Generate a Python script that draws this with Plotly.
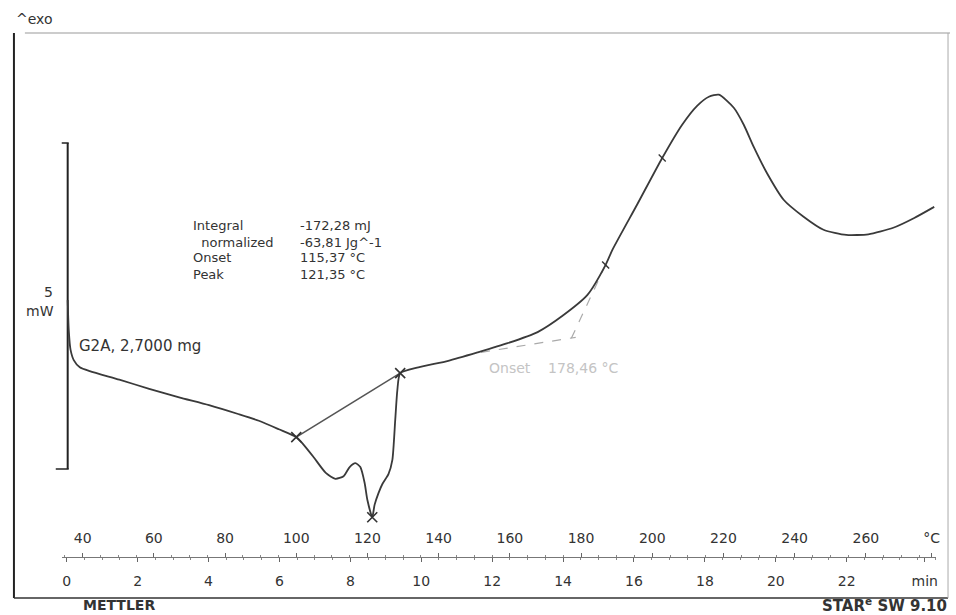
import plotly.graph_objects as go

# DSC heating scan of sample G2A (10 K/min), heat flow in mW, exo up
temp_c = [35.8, 36.1, 36.6, 37.5, 39.2, 42.0, 50.3, 58.7, 67.1, 75.5, 83.9, 89.5, 95.1,
          100.0, 102.1, 104.9, 108.3, 111.0, 113.3, 115.0, 116.6, 118.0, 119.2, 120.0,
          121.35, 122.0, 123.1, 124.2, 125.9, 127.0, 127.8, 128.4, 129.2,
          134.3, 142.7, 151.0, 159.4, 167.8, 174.8, 181.8, 186.9, 188.8, 195.8, 202.8,
          208.4, 212.6, 215.9, 218.7, 222.9, 225.7, 228.5, 232.2, 236.9, 242.5, 248.1,
          254.5, 260.7, 267.7, 273.6, 279.2]
heat_flow_mw = [2.59, 2.13, 1.83, 1.67, 1.56, 1.50, 1.37, 1.23, 1.10, 0.98, 0.84, 0.74, 0.61,
                0.49, 0.37, 0.18, -0.06, -0.15, -0.11, 0.03, 0.09, 0.03, -0.21, -0.48,
                -0.74, -0.55, -0.37, -0.23, -0.08, 0.14, 0.75, 1.21, 1.47,
                1.56, 1.66, 1.79, 1.93, 2.10, 2.35, 2.67, 3.13, 3.36, 4.06, 4.77,
                5.28, 5.57, 5.71, 5.74, 5.54, 5.28, 4.94, 4.54, 4.13, 3.87, 3.67,
                3.59, 3.60, 3.70, 3.85, 4.02]

# Peak integration: baseline limits and peak point
baseline_t = [100.0, 129.2]
baseline_mw = [0.49, 1.47]
peak_t = [121.35]
peak_mw = [-0.74]

# Onset construction of the second event (two tangents)
tangent1_t = [151.9, 178.5]
tangent1_mw = [1.79, 2.02]
tangent2_t = [186.9, 176.8]
tangent2_mw = [3.13, 1.95]
limit_marks_t = [186.9, 202.8]
limit_marks_mw = [3.13, 4.77]

# 5 mW scale bar
scale_t = [35.8, 35.8]
scale_mw = [0.0, 5.0]

# Scale ticks
temp_ticks = [40, 60, 80, 100, 120, 140, 160, 180, 200, 220, 240, 260, 278.5]
temp_ticktext = ["40", "60", "80", "100", "120", "140", "160", "180", "200",
                 "220", "240", "260", "°C"]
time_ticks = [0, 2, 4, 6, 8, 10, 12, 14, 16, 18, 20, 22, 24.2]
time_ticktext = ["0", "2", "4", "6", "8", "10", "12", "14", "16", "18", "20", "22", "min"]

result_labels = ["Integral", "  normalized", "Onset", "Peak"]
result_values = ["-172,28 mJ", "-63,81 Jg^-1", "115,37 °C", "121,35 °C"]

W, H = 956, 615
FONT = "DejaVu Sans"
INK = "#3a3a3a"


def px(x):
    return x / W


def py(y):
    return 1 - y / H


fig = go.Figure()

fig.add_trace(go.Scatter(x=scale_t, y=scale_mw, mode="lines",
                         line=dict(color="#222", width=2), hoverinfo="skip"))
fig.add_trace(go.Scatter(x=tangent1_t, y=tangent1_mw, mode="lines",
                         line=dict(color="#aaa", width=1.2, dash="dash"), hoverinfo="skip"))
fig.add_trace(go.Scatter(x=tangent2_t, y=tangent2_mw, mode="lines",
                         line=dict(color="#aaa", width=1.2, dash="dash"), hoverinfo="skip"))
fig.add_trace(go.Scatter(x=baseline_t, y=baseline_mw, mode="lines",
                         line=dict(color="#555", width=1.6), hoverinfo="skip"))
fig.add_trace(go.Scatter(x=temp_c, y=heat_flow_mw, mode="lines",
                         line=dict(color=INK, width=1.8, shape="spline", smoothing=0.6)))
fig.add_trace(go.Scatter(x=baseline_t + peak_t, y=baseline_mw + peak_mw, mode="markers",
                         marker=dict(symbol="x-thin", size=10,
                                     line=dict(color="#333", width=1.6)),
                         hoverinfo="skip"))
fig.add_trace(go.Scatter(x=limit_marks_t, y=limit_marks_mw, mode="markers",
                         marker=dict(symbol="line-nw", size=7,
                                     line=dict(color="#333", width=1.4)),
                         hoverinfo="skip"))
# time scale carrier trace
fig.add_trace(go.Scatter(x=[0, 22], y=[None, None], xaxis="x2", mode="lines",
                         line=dict(width=0), hoverinfo="skip"))

x_dom = [62 / W, 940 / W]
tick_font = dict(size=14, family=FONT, color="#333")
fig.update_layout(
    width=W, height=H,
    margin=dict(l=0, r=0, t=0, b=0),
    paper_bgcolor="white", plot_bgcolor="white",
    showlegend=False,
    font=dict(family=FONT, color="#333"),
    xaxis=dict(domain=x_dom, range=[34.13, 279.72], anchor="free", position=py(557),
               side="top", showgrid=False, zeroline=False, showline=True,
               linecolor="#777", linewidth=1, ticks="outside", ticklen=4,
               tickcolor="#666", tickvals=temp_ticks, ticktext=temp_ticktext,
               tickfont=tick_font, ticklabelstandoff=4,
               minor=dict(dtick=5, ticks="outside", ticklen=2, tickcolor="#888")),
    xaxis2=dict(domain=x_dom, range=[-0.1404, 24.52], overlaying="x", anchor="free",
                position=py(557), side="bottom", showgrid=False, zeroline=False,
                showline=False, ticks="outside", ticklen=4, tickcolor="#666",
                tickvals=time_ticks, ticktext=time_ticktext,
                tickfont=tick_font, ticklabelstandoff=7,
                minor=dict(dtick=0.5, ticks="outside", ticklen=2, tickcolor="#888")),
    yaxis=dict(domain=[0, 1], range=[-2.239, 7.193], visible=False),
)

# Outer frame
fig.add_shape(type="line", xref="paper", yref="paper", x0=px(14), x1=px(14),
              y0=py(33), y1=py(598), line=dict(color="#222", width=2))
fig.add_shape(type="line", xref="paper", yref="paper", x0=px(14), x1=px(952),
              y0=py(598), y1=py(598), line=dict(color="#333", width=1.5))
fig.add_shape(type="line", xref="paper", yref="paper", x0=px(25), x1=px(954),
              y0=py(33), y1=py(33), line=dict(color="#bbb", width=1.5))
fig.add_shape(type="line", xref="paper", yref="paper", x0=px(952), x1=px(952),
              y0=py(33), y1=py(598), line=dict(color="#aaa", width=1))
# Scale bar end ticks
fig.add_shape(type="line", xref="paper", yref="paper", x0=px(62), x1=px(69),
              y0=py(143), y1=py(143), line=dict(color="#222", width=1.5))
fig.add_shape(type="line", xref="paper", yref="paper", x0=px(56), x1=px(69),
              y0=py(469), y1=py(469), line=dict(color="#222", width=1.5))


def label(x, y, text, size=12, color="#333", anchor="left", bold=False):
    fig.add_annotation(x=px(x), y=py(y), xref="paper", yref="paper", text=text,
                       showarrow=False, xanchor=anchor, yanchor="middle", borderpad=0,
                       font=dict(family=FONT, size=size, color=color,
                                 weight="bold" if bold else "normal"))


label(15, 19, "^exo", size=14, color="#333")
label(54, 292, "5", size=14, anchor="right")
label(55, 311, "mW", size=14, anchor="right")
label(78, 346, "G2A, 2,7000 mg", size=15)

rows_y = [226, 242, 258, 274]
for name, value, yy in zip(result_labels, result_values, rows_y):
    label(193, yy, name.replace(" ", "&nbsp;"), size=13)
    label(300, yy, value, size=13)

label(490, 368, "Onset&nbsp;&nbsp;&nbsp;&nbsp;178,46 °C", size=14, color="#c4c4c4")

label(82, 605, "METTLER", size=14, color="#333", bold=True)
label(952, 605, "STAR<sup>e</sup> SW 9.10", size=15, color="#333", anchor="right", bold=True)

fig.write_html("out.html")
